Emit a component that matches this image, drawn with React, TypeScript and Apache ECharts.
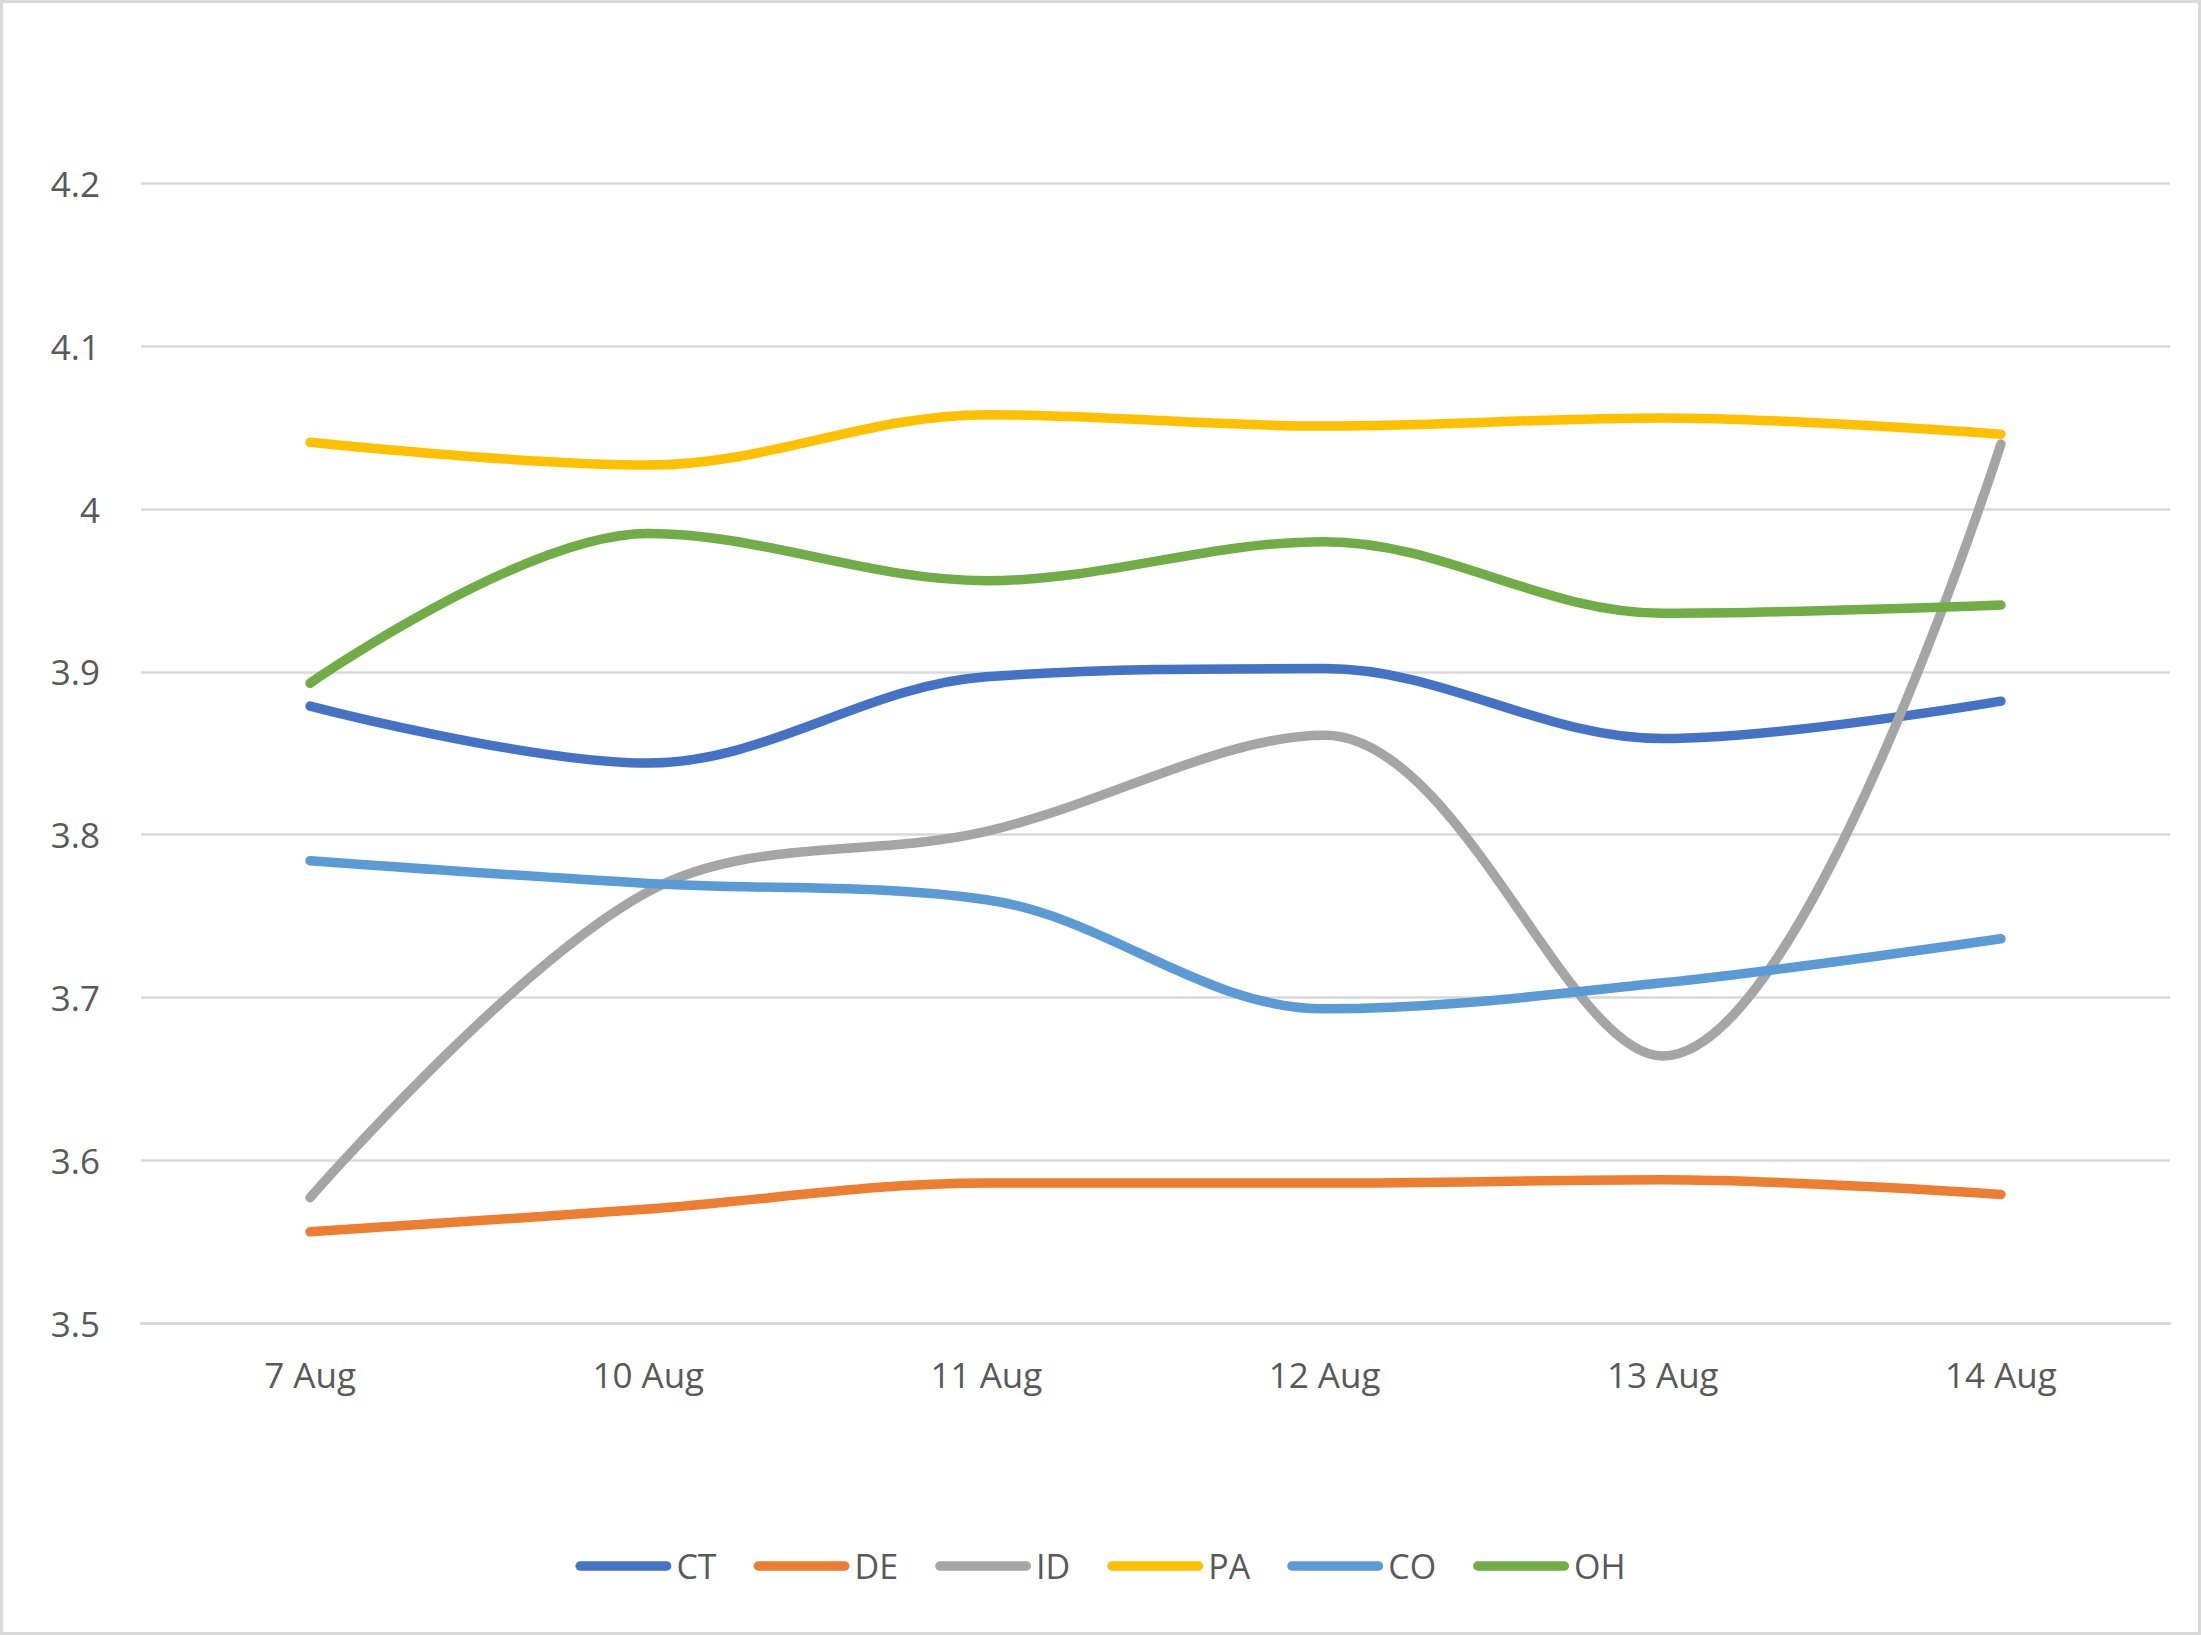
import React, { useEffect, useRef } from "react";
import * as echarts from "echarts";

const categories = ["7 Aug", "10 Aug", "11 Aug", "12 Aug", "13 Aug", "14 Aug"];
const seriesNames = ["CT", "DE", "ID", "PA", "CO", "OH"];
const colors = ["#4472C4", "#ED7D31", "#A5A5A5", "#FFC000", "#5B9BD5", "#70AD47"];

const ctValues = [3.879, 3.844, 3.897, 3.902, 3.859, 3.882];
const deValues = [3.556, 3.570, 3.586, 3.586, 3.588, 3.579];
const idValues = [3.577, 3.765, 3.802, 3.861, 3.664, 4.040];
const paValues = [4.041, 4.027, 4.058, 4.051, 4.056, 4.046];
const coValues = [3.784, 3.770, 3.760, 3.693, 3.709, 3.736];
const ohValues = [3.893, 3.985, 3.956, 3.980, 3.936, 3.941];

const allValues = [ctValues, deValues, idValues, paValues, coValues, ohValues];

const FONT = "'Open Sans', 'Liberation Sans', sans-serif";
const TEXT_COLOR = "#595959";
const GRID_COLOR = "#d9d9d9";

export default function App() {
  const ref = useRef<HTMLDivElement>(null);

  useEffect(() => {
    if (!ref.current) return;
    const chart = echarts.init(ref.current, undefined, { renderer: "svg" });
    const option: any = {
      animation: false,
      backgroundColor: "#ffffff",
      color: colors,
      textStyle: { fontFamily: FONT },
      graphic: [
        {
          type: "rect",
          shape: { x: 1.5, y: 1.5, width: 2198, height: 1632 },
          style: { fill: "none", stroke: GRID_COLOR, lineWidth: 3 },
          silent: true,
        },
      ],
      grid: { left: 141, right: 31, top: 183.5, bottom: 312, containLabel: false },
      legend: {
        left: "center",
        top: 1544,
        itemWidth: 96,
        itemHeight: 9.5,
        itemGap: 37,
        icon: "path://M4.75 0H91.25A4.75 4.75 0 0 1 91.25 9.5H4.75A4.75 4.75 0 0 1 4.75 0Z",
        itemStyle: { borderWidth: 0 },
        textStyle: { fontSize: 34, color: TEXT_COLOR, fontFamily: FONT },
        data: seriesNames,
      },
      xAxis: {
        type: "category",
        data: categories,
        boundaryGap: true,
        axisLine: { show: true, lineStyle: { color: GRID_COLOR, width: 2.5 } },
        axisTick: { show: false },
        axisLabel: { fontSize: 35, color: TEXT_COLOR, fontFamily: FONT, margin: 34 },
        splitLine: { show: false },
      },
      yAxis: {
        type: "value",
        min: 3.5,
        max: 4.2,
        interval: 0.1,
        axisLine: { show: false },
        axisTick: { show: false },
        axisLabel: {
          fontSize: 35,
          color: TEXT_COLOR,
          fontFamily: FONT,
          margin: 41,
          formatter: (v: number) => String(Math.round(v * 10) / 10),
        },
        splitLine: { show: true, lineStyle: { color: GRID_COLOR, width: 2.5 } },
      },
      series: seriesNames.map((name, i) => ({
        name,
        type: "line",
        data: allValues[i],
        smooth: 0.35,
        symbol: "none",
        showSymbol: false,
        lineStyle: { width: 9.5, color: colors[i], cap: "round", join: "round" },
        itemStyle: { color: colors[i] },
        emphasis: { disabled: true },
      })),
    };
    chart.setOption(option);
    return () => chart.dispose();
  }, []);

  return (
    <div
      ref={ref}
      style={{ position: "fixed", left: 0, top: 0, width: 2201, height: 1635, background: "#fff" }}
    />
  );
}
